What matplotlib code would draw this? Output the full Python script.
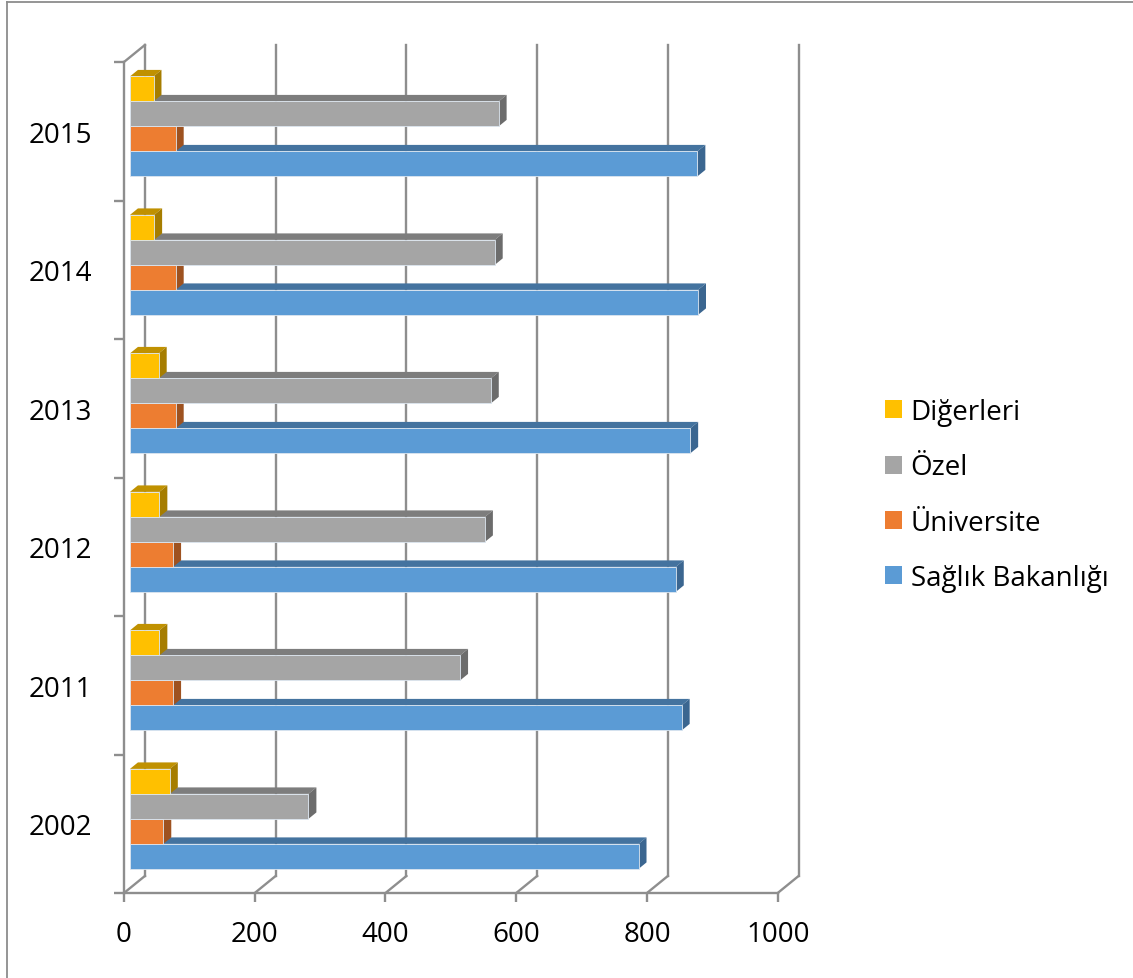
import matplotlib
matplotlib.use("Agg")
import matplotlib.pyplot as plt
from matplotlib.patches import Polygon, Patch
from matplotlib.lines import Line2D

plt.rcParams["font.family"] = ["Open Sans", "DejaVu Sans"]

# Hospital counts by ownership, per year
years = ["2002", "2011", "2012", "2013", "2014", "2015"]
saglik_bakanligi = [778, 844, 835, 857, 869, 868]
universite = [51, 66, 66, 70, 70, 70]
ozel = [273, 505, 543, 552, 558, 564]
digerleri = [61, 45, 45, 44, 37, 36]

series_names = ["Sağlık Bakanlığı", "Üniversite", "Özel", "Diğerleri"]
series_values = [saglik_bakanligi, universite, ozel, digerleri]
# (front, top, side) shades for each series
series_colors = [
    ("#5B9BD5", "#44739F", "#3B6690"),
    ("#ED7D31", "#B45F25", "#9E5220"),
    ("#A5A5A5", "#7D7D7D", "#6C6C6C"),
    ("#FFC000", "#C09100", "#A67D00"),
]
x_ticks = [0, 200, 400, 600, 800, 1000]

W, H = 1133, 979
fig = plt.figure(figsize=(W / 100, H / 100), dpi=100)
ax = fig.add_axes([124 / W, (H - 894) / H, (777.7 - 124) / W, (894 - 63) / H])
ax.set_xlim(0, 1000)
ax.set_ylim(0, len(years))

# depth of the 3-D box in data units
depth_x = 32.0
depth_y = 0.123
grid_color = "#8E8E8E"
grid_lw = 1.7

# back wall gridlines and floor diagonals
for v in x_ticks:
    ax.add_line(Line2D([v + depth_x, v + depth_x], [depth_y, len(years) + depth_y],
                       color=grid_color, lw=grid_lw, clip_on=False, zorder=1))
    ax.add_line(Line2D([v, v + depth_x], [0, depth_y],
                       color=grid_color, lw=grid_lw, clip_on=False, zorder=1))
# top edge of the side wall
ax.add_line(Line2D([0, depth_x], [len(years), len(years) + depth_y],
                   color=grid_color, lw=grid_lw, clip_on=False, zorder=1))

# bars
f0 = 0.286          # depth of the bar front face
t = 0.38            # bar thickness in depth
bar_h = 0.1805
gap = (1 - 4 * bar_h) / 2
x0 = f0 * depth_x
for i in range(len(years)):
    for k, (vals, cols) in enumerate(zip(series_values, series_colors)):
        v = vals[i]
        yb = i + f0 * depth_y + gap + k * bar_h
        yt = yb + bar_h
        ddx, ddy = t * depth_x, t * depth_y
        z = 3 + i * 0.01 + k * 0.001
        ax.add_patch(Polygon([(x0, yt), (x0 + v, yt), (x0 + v + ddx, yt + ddy), (x0 + ddx, yt + ddy)],
                             closed=True, facecolor=cols[1], edgecolor="none", zorder=z, clip_on=False))
        ax.add_patch(Polygon([(x0 + v, yb), (x0 + v, yt), (x0 + v + ddx, yt + ddy), (x0 + v + ddx, yb + ddy)],
                             closed=True, facecolor=cols[2], edgecolor="none", zorder=z, clip_on=False))
        ax.barh(yb, v, height=bar_h, left=x0, align="edge", color=cols[0],
                edgecolor="#DCE6F0", linewidth=0.6, zorder=z + 0.0005, clip_on=False)

# axes styling
for s in ["top", "right"]:
    ax.spines[s].set_visible(False)
for s in ["left", "bottom"]:
    ax.spines[s].set_color(grid_color)
    ax.spines[s].set_linewidth(grid_lw)
    ax.spines[s].set_zorder(2)

ax.set_xticks(x_ticks)
ax.set_xticklabels([str(v) for v in x_ticks])
ax.tick_params(axis="x", direction="out", length=6.5, width=grid_lw, color=grid_color,
               labelsize=20, pad=13, labelcolor="black")

ax.set_yticks(range(len(years) + 1))
ax.set_yticklabels([])
ax.tick_params(axis="y", which="major", direction="out", length=7, width=grid_lw, color=grid_color)
ax.set_yticks([i + 0.5 for i in range(len(years))], minor=True)
ax.set_yticklabels(years, minor=True)
ax.tick_params(axis="y", which="minor", length=0, pad=23, labelsize=20, labelcolor="black")

# legend, top entry first
handles = [Patch(facecolor=c[0], edgecolor="none") for c in series_colors][::-1]
labels = series_names[::-1]
fig.legend(handles, labels, loc="center left", bbox_to_anchor=(885 / W, 1 - 496 / H),
           frameon=False, fontsize=20, handlelength=0.62, handleheight=0.62,
           handletextpad=0.3, labelspacing=0.98, borderpad=0, borderaxespad=0)

# chart border
fig.add_artist(Line2D([7 / W, 7 / W], [0, 1 - 3 / H], color="#8C8C8C", lw=1.3))
fig.add_artist(Line2D([7 / W, 1], [1 - 3 / H, 1 - 3 / H], color="#8C8C8C", lw=1.3))

fig.savefig("out.png", dpi=100, facecolor="white")
